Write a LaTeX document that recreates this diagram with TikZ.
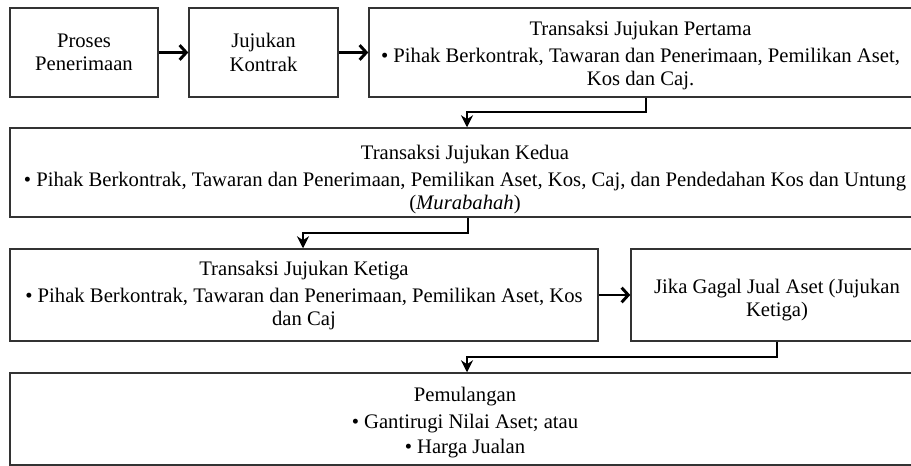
\documentclass[tikz,border=0pt]{standalone}
\usepackage{fontspec}
\setmainfont{Liberation Serif}
\usetikzlibrary{arrows.meta}
\begin{document}
\begin{tikzpicture}[x=0.75pt,y=-0.75pt,
  boxnode/.style={draw=black!80,line width=1.1pt,rectangle,inner sep=0pt},
  txt/.style={inner sep=0pt,align=center,font=\fontsize{15.5pt}{17.5pt}\selectfont},
  flowline/.style={line width=2.2pt,-{Stealth[length=9pt,width=9pt]}},
  sideline/.style={line width=2.2pt,-{Straight Barb[length=5pt,width=11pt,line width=2.2pt]}}]
\useasboundingbox (0,0) rectangle (911,466);
\clip (0,0) rectangle (911,466);
\node[boxnode,minimum width=111pt,minimum height=66.75pt] (b1) at (84,52.5) {};
\node[boxnode,minimum width=111.75pt,minimum height=66.75pt] (b2) at (263.5,52.5) {};
\node[boxnode,minimum width=407.25pt,minimum height=66.75pt] (b3) at (640.5,52.5) {};
\node[boxnode,minimum width=682.5pt,minimum height=66.75pt] (b4) at (465,172.5) {};
\node[boxnode,minimum width=441pt,minimum height=69pt] (b5) at (304,295) {};
\node[boxnode,minimum width=219pt,minimum height=69pt] (b6) at (777,295) {};
\node[boxnode,minimum width=682.5pt,minimum height=69pt] (b7) at (465,419) {};
\node[txt] (t1) at (84,52.5) {Proses\\Penerimaan};
\node[txt] (t2) at (263.5,52.5) {Jujukan\\Kontrak};
\node[txt] (t3) at (640.5,56) {Transaksi Jujukan Pertama\\[2.5pt]
  • Pihak Berkontrak, Tawaran dan Penerimaan, Pemilikan Aset,\\Kos dan Caj.};
\node[txt] (t4) at (465,179.5) {Transaksi Jujukan Kedua\\[2.5pt]
  • Pihak Berkontrak, Tawaran dan Penerimaan, Pemilikan Aset, Kos, Caj, dan Pendedahan Kos dan Untung\\(\textit{Murabahah})};
\node[txt] (t5) at (304,296) {Transaksi Jujukan Ketiga\\[2.5pt]
  • Pihak Berkontrak, Tawaran dan Penerimaan, Pemilikan Aset, Kos\\dan Caj};
\node[txt] (t6) at (777,300) {Jika Gagal Jual Aset (Jujukan\\Ketiga)};
\node[txt] (t7) at (465,423) {Pemulangan\\[2.5pt]
  • Gantirugi Nilai Aset; atau\\[1.5pt]• Harga Jualan};
\coordinate (c1) at (646,112);
\coordinate (c2) at (467,112);
\coordinate (c3) at (468,233);
\coordinate (c4) at (303,233);
\coordinate (c5) at (777,357);
\coordinate (c6) at (467,357);
\draw[sideline] (b1.east) -- (b2.west);
\draw[sideline] (b2.east) -- (b3.west);
\draw[flowline] (b3.south -| c1) -- (c1) -- (c2) -- (c2 |- b4.north);
\draw[flowline] (b4.south -| c3) -- (c3) -- (c4) -- (c4 |- b5.north);
\draw[sideline] (b5.east) -- (b6.west);
\draw[flowline] (b6.south -| c5) -- (c5) -- (c6) -- (c6 |- b7.north);
\end{tikzpicture}
\end{document}
